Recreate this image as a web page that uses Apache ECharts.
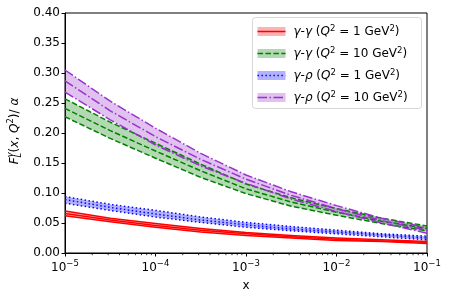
<!DOCTYPE html>
<html><head><meta charset="utf-8">
<script src="https://cdn.jsdelivr.net/npm/echarts@6/dist/echarts.min.js"></script>
<style>html,body{margin:0;padding:0;background:#fff}#c{width:451px;height:299px}</style>
</head><body><div id="c"></div>
<script>
// x sample points (log-spaced, half decades)
const xValues = [1e-5, 3.162e-5, 1e-4, 3.162e-4, 1e-3, 3.162e-3, 1e-2, 3.162e-2, 1e-1];

// gamma-gamma, Q2 = 1 GeV2 (red)
const ggQ1Upper  = [0.070, 0.058, 0.049, 0.041, 0.034, 0.029, 0.025, 0.022, 0.019];
const ggQ1Center = [0.066, 0.055, 0.046, 0.038, 0.032, 0.027, 0.023, 0.020, 0.018];
const ggQ1Lower  = [0.062, 0.052, 0.043, 0.035, 0.029, 0.025, 0.021, 0.019, 0.016];
// gamma-gamma, Q2 = 10 GeV2 (green)
const ggQ10Upper  = [0.257, 0.218, 0.183, 0.148, 0.115, 0.092, 0.074, 0.058, 0.045];
const ggQ10Center = [0.241, 0.204, 0.170, 0.137, 0.107, 0.085, 0.068, 0.053, 0.041];
const ggQ10Lower  = [0.227, 0.191, 0.158, 0.126, 0.099, 0.078, 0.063, 0.049, 0.037];
// gamma-rho, Q2 = 1 GeV2 (blue)
const grQ1Upper  = [0.094, 0.081, 0.071, 0.060, 0.051, 0.044, 0.038, 0.032, 0.028];
const grQ1Center = [0.089, 0.076, 0.065, 0.055, 0.047, 0.040, 0.035, 0.030, 0.025];
const grQ1Lower  = [0.083, 0.071, 0.060, 0.051, 0.043, 0.037, 0.032, 0.027, 0.022];
// gamma-rho, Q2 = 10 GeV2 (purple)
const grQ10Upper  = [0.305, 0.253, 0.208, 0.166, 0.130, 0.102, 0.079, 0.058, 0.042];
const grQ10Center = [0.287, 0.237, 0.194, 0.156, 0.123, 0.096, 0.074, 0.054, 0.038];
const grQ10Lower  = [0.268, 0.222, 0.180, 0.145, 0.116, 0.090, 0.069, 0.050, 0.033];

const minorTickValues = [2e-5,3e-5,4e-5,5e-5,6e-5,7e-5,8e-5,9e-5,
  2e-4,3e-4,4e-4,5e-4,6e-4,7e-4,8e-4,9e-4,
  2e-3,3e-3,4e-3,5e-3,6e-3,7e-3,8e-3,9e-3,
  2e-2,3e-2,4e-2,5e-2,6e-2,7e-2,8e-2,9e-2];

const legendLabels = [
  '{it|γ}-{it|γ} ({it|Q}{sp|2} = 1 GeV{sp|2})',
  '{it|γ}-{it|γ} ({it|Q}{sp|2} = 10 GeV{sp|2})',
  '{it|γ}-{it|ρ} ({it|Q}{sp|2} = 1 GeV{sp|2})',
  '{it|γ}-{it|ρ} ({it|Q}{sp|2} = 10 GeV{sp|2})'
];

const FONT = 'DejaVu Sans';
const pairs = arr => arr.map((v, i) => [xValues[i], v]);

const groups = [
  {color: '#ff0000', dash: 'solid', up: ggQ1Upper, mid: ggQ1Center, lo: ggQ1Lower},
  {color: '#008000', dash: [5.55, 2.4], up: ggQ10Upper, mid: ggQ10Center, lo: ggQ10Lower},
  {color: '#0000ff', dash: [1.5, 2.475], up: grQ1Upper, mid: grQ1Center, lo: grQ1Lower},
  {color: '#9932cc', dash: [9.6, 2.4, 1.5, 2.4], up: grQ10Upper, mid: grQ10Center, lo: grQ10Lower}
];

const series = [];
groups.forEach(g => {
  series.push({
    type: 'custom', silent: true, z: 1,
    data: xValues.map((x, i) => [x, g.lo[i], g.up[i]]),
    encode: {x: 0, y: [1, 2]},
    renderItem: (params, api) => {
      if (params.dataIndex !== 0) return null;
      const top = g.up.map((v, i) => api.coord([xValues[i], v]));
      const bot = g.lo.map((v, i) => api.coord([xValues[i], v])).reverse();
      return {type: 'polygon', shape: {points: top.concat(bot)},
        style: {fill: g.color, opacity: 0.3}};
    }
  });
});
groups.forEach(g => {
  [g.up, g.mid, g.lo].forEach(arr => {
    series.push({type: 'line', data: pairs(arr), smooth: false, symbol: 'none', silent: true, z: 3,
      lineStyle: {color: g.color, width: 1.5, type: g.dash, cap: 'butt', join: 'round'}});
  });
});
series.push({
  type: 'custom', silent: true, clip: false, z: 5,
  data: minorTickValues.map(v => [v, 0]),
  renderItem: (params, api) => {
    const p = api.coord([api.value(0), 0]);
    return {type: 'line', shape: {x1: p[0], y1: p[1], x2: p[0], y2: p[1] + 2.2},
      style: {stroke: '#000', lineWidth: 0.8}};
  }
});

// legend built as graphic
const legendChildren = [{
  type: 'rect', shape: {x: 0, y: 0, width: 169, height: 91, r: 3},
  style: {fill: 'rgba(255,255,255,0.8)', stroke: '#d6d6d6', lineWidth: 1}
}];
groups.forEach((g, i) => {
  const cy = 14 + i * 22;
  legendChildren.push({type: 'rect', shape: {x: 5, y: cy - 4.5, width: 28, height: 9},
    style: {fill: g.color, opacity: 0.3}});
  legendChildren.push({type: 'line', shape: {x1: 5, y1: cy, x2: 33, y2: cy},
    style: {stroke: g.color, lineWidth: 1.5, lineDash: g.dash === 'solid' ? null : g.dash}});
  legendChildren.push({type: 'text', x: 41, y: cy, style: {
    text: legendLabels[i], fontFamily: FONT, fontSize: 12, fill: '#000', verticalAlign: 'middle',
    rich: {it: {fontStyle: 'italic', fontFamily: FONT, fontSize: 12},
           sp: {fontSize: 8.5, fontFamily: FONT, verticalAlign: 'top', padding: [0, 0, 6, 0]}}
  }});
});

// y-axis title as rotated graphic (F with stacked sub L / sup gamma)
const mctx = document.createElement('canvas').getContext('2d');
function tw(txt, size, italic) {
  mctx.font = (italic ? 'italic ' : '') + size + 'px "' + FONT + '"';
  return mctx.measureText(txt).width;
}
const yParts = [
  {t: 'F', s: 12, it: true, dy: 0},
  {t: 'L', s: 8.5, it: true, dy: 3.5, stackWith: 'γ'},
  {t: '(', s: 12, it: false, dy: 0},
  {t: 'x', s: 12, it: true, dy: 0},
  {t: ', ', s: 12, it: false, dy: 0},
  {t: 'Q', s: 12, it: true, dy: 0},
  {t: '2', s: 8.5, it: false, dy: -4.5},
  {t: ')/ ', s: 12, it: false, dy: 0},
  {t: 'α', s: 12, it: true, dy: 0}
];
let total = 0;
yParts.forEach(p => { p.w = Math.max(tw(p.t, p.s, p.it), p.stackWith ? tw(p.stackWith, p.s, true) : 0); total += p.w; });
const yTitleChildren = [];
let cx = -total / 2;
yParts.forEach(p => {
  yTitleChildren.push({type: 'text', x: cx, y: p.dy, style: {text: p.t, fontFamily: FONT, fontSize: p.s,
    fontStyle: p.it ? 'italic' : 'normal', fill: '#000', verticalAlign: 'middle', align: 'left'}});
  if (p.stackWith) {
    yTitleChildren.push({type: 'text', x: cx, y: -4.5, style: {text: p.stackWith, fontFamily: FONT, fontSize: p.s,
      fontStyle: 'italic', fill: '#000', verticalAlign: 'middle', align: 'left'}});
  }
  cx += p.w;
});

const chart = echarts.init(document.getElementById('c'), null, {renderer: 'canvas'});
chart.setOption({
  animation: false,
  backgroundColor: '#fff',
  grid: {left: 65, right: 24, top: 13, bottom: 46, show: true, borderColor: '#000', borderWidth: 1, backgroundColor: 'transparent'},
  xAxis: {
    type: 'log', logBase: 10, min: 1e-5, max: 1e-1,
    name: 'x', nameLocation: 'middle', nameGap: 27,
    nameTextStyle: {fontFamily: FONT, fontSize: 12, color: '#000'},
    axisLine: {show: true, lineStyle: {color: '#000', width: 1}},
    axisTick: {show: true, length: 3.5, lineStyle: {color: '#000'}},
    minorTick: {show: false},
    splitLine: {show: false},
    axisLabel: {
      color: '#000', fontFamily: FONT, fontSize: 12, margin: 6,
      formatter: v => '{b|10}{s|−' + Math.round(-Math.log10(v)) + '}',
      rich: {b: {fontFamily: FONT, fontSize: 12, color: '#000'},
             s: {fontFamily: FONT, fontSize: 8.5, color: '#000', padding: [0, 0, 8, 0]}}
    }
  },
  yAxis: {
    type: 'value', min: 0, max: 0.4, interval: 0.05,
    axisLine: {show: true, lineStyle: {color: '#000', width: 1}},
    axisTick: {show: true, length: 3.5, lineStyle: {color: '#000'}},
    splitLine: {show: false},
    axisLabel: {color: '#000', fontFamily: FONT, fontSize: 12, margin: 5, formatter: v => v.toFixed(2)}
  },
  series: series,
  graphic: [
    {type: 'group', left: 252, top: 17, children: legendChildren},
    {type: 'group', x: 15, y: 131, rotation: Math.PI / 2, children: yTitleChildren}
  ]
});
</script></body></html>
